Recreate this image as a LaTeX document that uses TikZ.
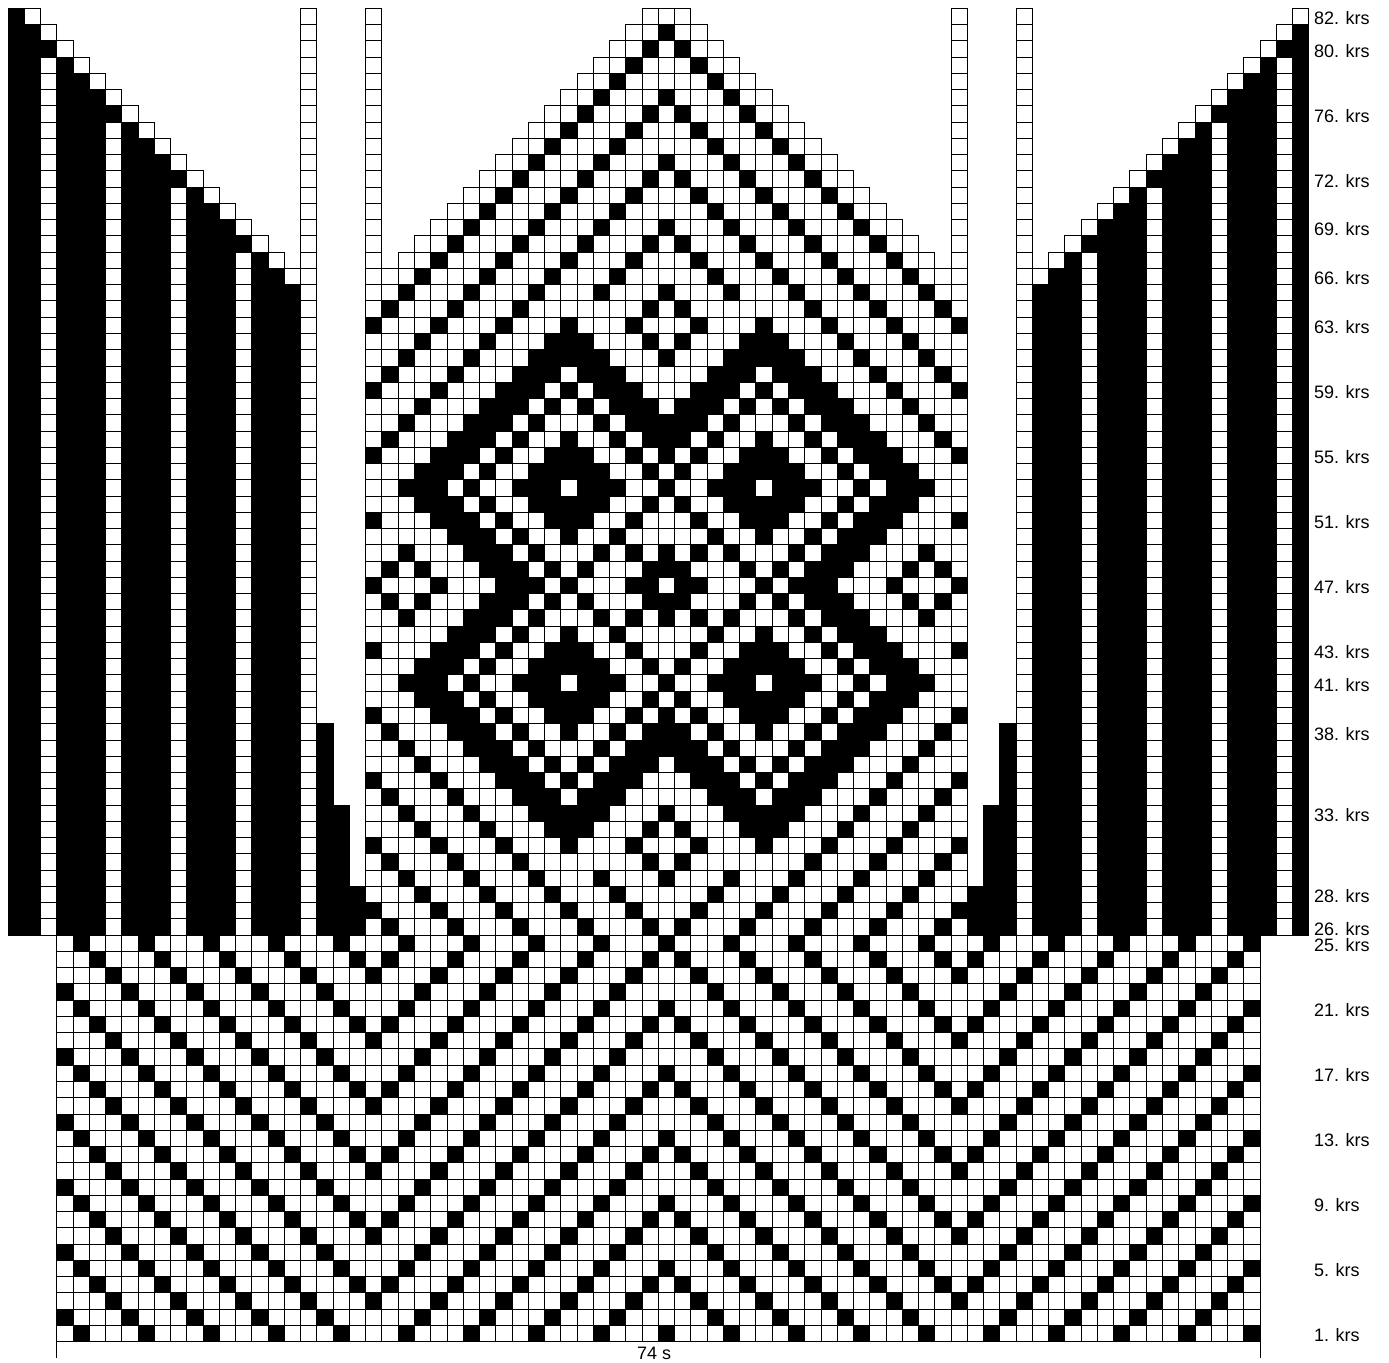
\documentclass[tikz,border=0pt]{standalone}
\usepackage{fontspec}
\setmainfont{Liberation Sans}
\tikzset{
  gridln/.style={draw=black,line width=0.75pt,line cap=rect},
  cellblack/.style={fill=black,draw=black,line width=0.75pt},
  krslabel/.style={anchor=base west,inner sep=0pt,outer sep=0pt,font=\fontsize{13.5}{16}\selectfont},
  stitchcount/.style={anchor=base,inner sep=0pt,outer sep=0pt,font=\fontsize{13.5}{16}\selectfont}
}
% columns of white cells: c1,r1,c2,r2
\newcommand\gridbox[4]{%
  \pgfmathtruncatemacro\ga{#1}\pgfmathtruncatemacro\gb{#3+1}%
  \pgfmathtruncatemacro\gc{#2-1}\pgfmathtruncatemacro\gd{#4}%
  \foreach \gi in {\ga,...,\gb}{\draw[gridln] (\gi,\gc) -- (\gi,\gd);}%
  \foreach \gj in {\gc,...,\gd}{\draw[gridln] (\ga,\gj) -- (\gb,\gj);}%
}
\newcommand\bk[2]{\filldraw[cellblack] (#1,#2-1) rectangle ++(1,1);}
\newcommand\bkm[2]{\bk{#1}{#2}\bk{80-#1}{#2}}
\newcommand\rowpair[2]{\foreach \cq in {#2}{\bkm{\cq}{#1}\bkm{\cq}{94-#1}}}
% sleeve column: #1 logical column, #2 drawn column
\newcommand\sleevecol[2]{%
  \pgfmathtruncatemacro\sm{mod(#1,4)}%
  \ifnum\sm=2
    \gridbox{#2}{26}{#2}{81-#1}%
    \bk{#2}{82-#1}%
  \else
    \filldraw[cellblack] (#2,25) rectangle (#2+1,82-#1);
  \fi
  \ifnum#1>0 \gridbox{#2}{83-#1}{#2}{83-#1}\fi
}
\begin{document}
\begin{tikzpicture}[x=12.195pt,y=12.195pt]
\useasboundingbox (-0.492,-1.31) rectangle (84.93,82.51);
\fill[white] (-0.492,-1.31) rectangle (84.93,82.51);
% grids
\gridbox{3}{1}{76}{25}
\gridbox{22}{26}{58}{65}
\foreach \rr in {66,...,82}{\gridbox{\rr-43}{\rr}{123-\rr}{\rr}}
\gridbox{22}{66}{22}{82}
\gridbox{58}{66}{58}{82}
\gridbox{18}{26}{18}{82}
\gridbox{62}{26}{62}{82}
% sleeves
\foreach \cc in {0,...,17}{\sleevecol{\cc}{\cc}}
\foreach \cc in {1,...,17}{\pgfmathtruncatemacro\dd{80-\cc}\sleevecol{\cc}{\dd}}
% side wedges
\filldraw[cellblack] (19,25) rectangle (20,38);
\filldraw[cellblack] (20,25) rectangle (21,33);
\filldraw[cellblack] (21,25) rectangle (22,28);
\filldraw[cellblack] (61,25) rectangle (62,38);
\filldraw[cellblack] (60,25) rectangle (61,33);
\filldraw[cellblack] (59,25) rectangle (60,28);
% welt chevrons, rows 1 to 25
\foreach \rr in {1,...,25}{\foreach \cc in {3,...,40}{
  \pgfmathtruncatemacro\sv{\cc<=22 ? mod(\rr+\cc,4) : mod(\rr-\cc+400,4)}
  \ifnum\sv=1
    \ifnum\cc=3 \bk{3}{\rr}\else\bkm{\cc}{\rr}\fi
  \fi
}}
% rows 26 to 29
\foreach \rr in {26,...,29}{\foreach \cc in {22,...,40}{
  \pgfmathtruncatemacro\sv{mod(\rr+\cc,4)}
  \ifnum\sv=1 \bkm{\cc}{\rr}\fi
}}
% top chevrons, rows 65 to 82
\foreach \rr in {65,...,82}{\foreach \cc in {23,...,40}{
  \pgfmathtruncatemacro\sv{(\cc>=\rr-43) ? mod(\rr-\cc+400,4) : 0}
  \ifnum\sv=1 \bkm{\cc}{\rr}\fi
}}
% motif rows, mirrored about row 47
\rowpair{64}{23,27,31,39}
\rowpair{63}{22,26,30,34,38}
\rowpair{62}{25,29,33,34,35,39}
\rowpair{61}{24,28,32,33,34,35,36,40}
\rowpair{60}{23,27,31,32,33,35,36,37}
\rowpair{59}{22,26,30,31,32,34,36,37,38}
\rowpair{58}{25,29,30,31,33,35,37,38,39}
\rowpair{57}{24,28,29,30,32,36,38,39,40}
\rowpair{56}{23,27,28,29,31,34,37,39,40}
\rowpair{55}{22,26,27,28,30,33,34,35,38,40}
\rowpair{54}{25,26,27,29,32,33,34,35,36,39}
\rowpair{53}{24,25,26,28,31,32,33,35,36,37,40}
\rowpair{52}{25,26,27,29,32,33,34,35,36,39}
\rowpair{51}{22,26,27,28,30,33,34,35,38}
\rowpair{50}{27,28,29,31,34,37}
\rowpair{49}{24,28,29,30,32,36,38,40}
\rowpair{48}{23,25,29,30,31,33,35,39,40}
\rowpair{47}{22,26,30,31,32,34,38,39}
% width ticks and labels
\coordinate (tickLa) at (3,0); \coordinate (tickLb) at (3,-1);
\coordinate (tickRa) at (77,0); \coordinate (tickRb) at (77,-1);
\draw[gridln] (tickLa) -- (tickLb);
\draw[gridln] (tickRa) -- (tickRb);
\node[stitchcount] (width) at (39.73,-1.125) {74 s};
\foreach \rr in {82,80,76,72,69,66,63,59,55,51,47,43,41,38,33,28,26,25,21,17,13,9,5,1}{
  \node[krslabel] (k\rr) at (80.32,\rr-1) {\rr. krs};
}
\end{tikzpicture}
\end{document}
